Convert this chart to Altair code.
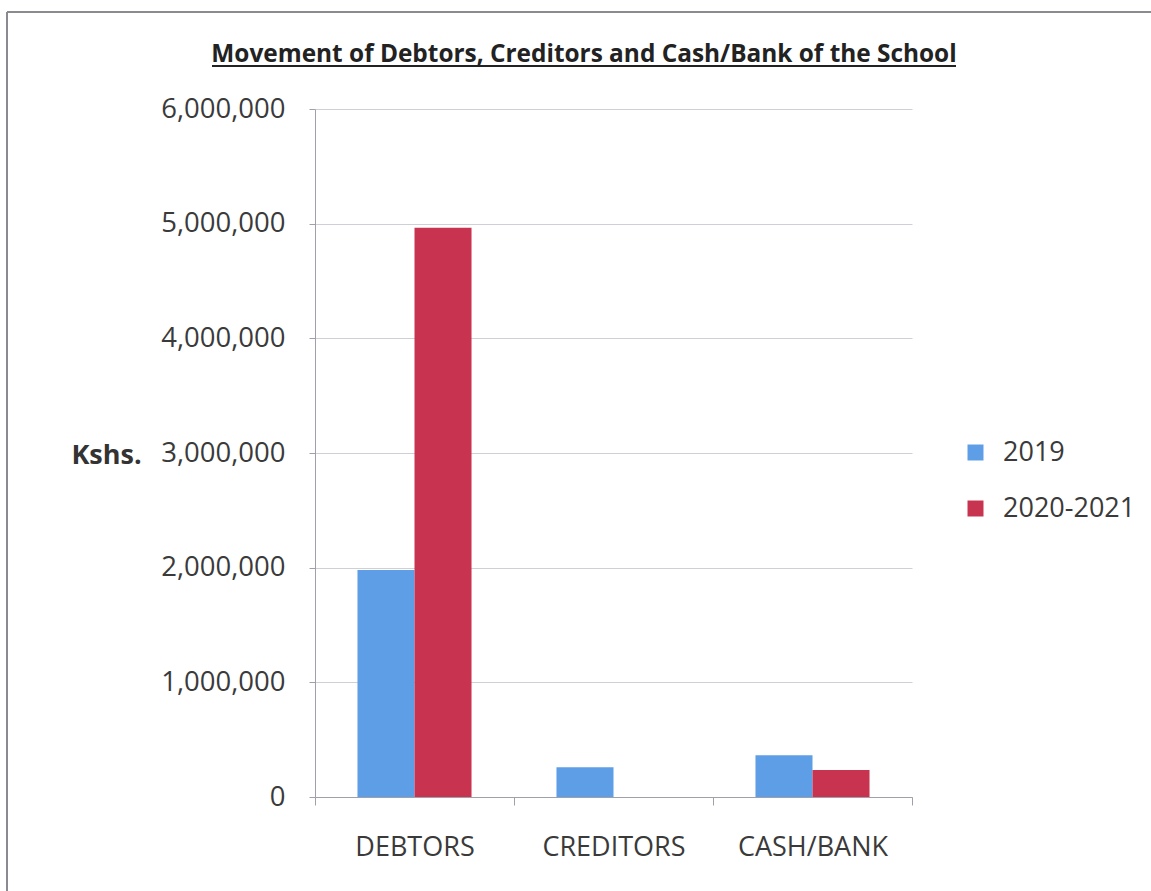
import altair as alt
import pandas as pd

TITLE = "Movement of Debtors, Creditors and Cash/Bank of the School"
CATEGORIES = ["DEBTORS", "CREDITORS", "CASH/BANK"]
SERIES = ["2019", "2020-2021"]
VALUES_2019 = [1980000, 260000, 365000]
VALUES_2020_2021 = [4965000, 0, 235000]
COLORS = ["#5E9EE6", "#C8344F"]
Y_TICKS = [0, 1000000, 2000000, 3000000, 4000000, 5000000, 6000000]

rows = []
for i, c in enumerate(CATEGORIES):
    rows.append({"category": c, "series": SERIES[0], "value": VALUES_2019[i]})
    rows.append({"category": c, "series": SERIES[1], "value": VALUES_2020_2021[i]})
df = pd.DataFrame(rows)

FONT = "Open Sans"
TXT = "#3a3a3a"

bars = alt.Chart(df).mark_bar().encode(
    x=alt.X(
        "category:N",
        sort=CATEGORIES,
        scale=alt.Scale(paddingInner=0, paddingOuter=0),
        axis=alt.Axis(
            title=None,
            labelAngle=0,
            labelFont=FONT,
            labelFontSize=27,
            labelColor=TXT,
            labelBaseline="middle",
            labelPadding=42,
            tickBand="extent",
            tickSize=8,
            tickColor="#a0a0aa",
            domainColor="#a0a0aa",
            grid=False,
        ),
    ),
    xOffset=alt.XOffset(
        "series:N", sort=SERIES, scale=alt.Scale(paddingInner=0, paddingOuter=0.745)
    ),
    y=alt.Y(
        "value:Q",
        scale=alt.Scale(domain=[0, 6000000], nice=False),
        axis=alt.Axis(
            values=Y_TICKS,
            format=",d",
            title="Kshs.",
            titleAngle=0,
            titleX=-209,
            titleY=346,
            titleAlign="center",
            titleBaseline="middle",
            titleFont=FONT,
            titleFontSize=27,
            titleFontWeight="bold",
            titleColor="#333333",
            labelFont=FONT,
            labelFontSize=27.5,
            labelColor=TXT,
            labelPadding=24,
            tickSize=6,
            tickColor="#a0a0aa",
            domainColor="#a0a0aa",
            gridColor="#cfcfd8",
        ),
    ),
    color=alt.Color(
        "series:N",
        sort=SERIES,
        scale=alt.Scale(domain=SERIES, range=COLORS),
        legend=alt.Legend(
            title=None,
            orient="none",
            legendX=647,
            legendY=330,
            symbolType="square",
            symbolSize=256,
            symbolStrokeWidth=0,
            labelFont=FONT,
            labelFontSize=27,
            labelColor=TXT,
            labelOffset=14,
            rowPadding=28,
        ),
    ),
)

title_layer = alt.Chart(alt.Data(values=[{"t": TITLE}])).mark_text(
    font=FONT, fontSize=24.4, fontWeight="bold", color="#222222",
    align="center", baseline="alphabetic"
).encode(x=alt.value(269), y=alt.value(-47), text="t:N")

underline = alt.Chart(alt.Data(values=[{"u": 1}])).mark_rule(
    color="#222222", strokeWidth=2
).encode(x=alt.value(-103), x2=alt.value(641), y=alt.value(-43))

frame_top = alt.Chart(alt.Data(values=[{"u": 1}])).mark_rule(
    color="#8a8a90", strokeWidth=2
).encode(x=alt.value(-308), x2=alt.value(840), y=alt.value(-97))

frame_left = alt.Chart(alt.Data(values=[{"u": 1}])).mark_rule(
    color="#8a8a90", strokeWidth=2
).encode(x=alt.value(-308), y=alt.value(-97), y2=alt.value(800))

chart = alt.layer(bars, title_layer, underline, frame_top, frame_left).properties(
    width=597,
    height=688,
    padding={"left": 315, "top": 109, "right": 239, "bottom": 94},
    autosize=alt.AutoSizeParams(type="none"),
    background="white",
).configure_view(stroke="transparent")

chart.save("out.html", embed_options={"renderer": "svg", "actions": False})
